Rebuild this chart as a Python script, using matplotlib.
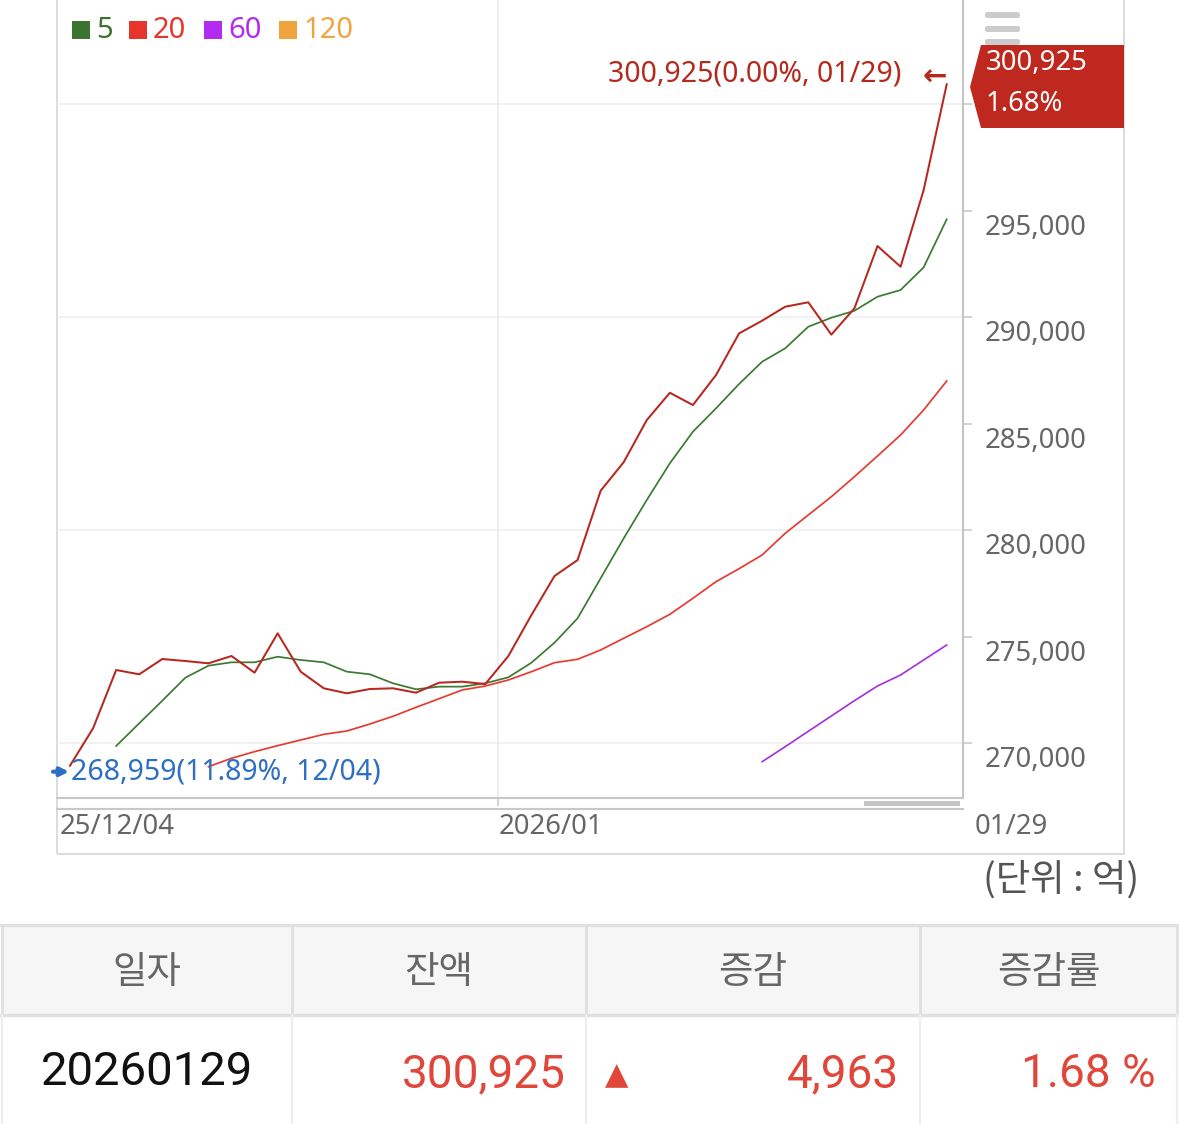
import numpy as np
import matplotlib
matplotlib.use("Agg")
import matplotlib.pyplot as plt
from matplotlib.patches import Rectangle, Polygon, FancyBboxPatch
from matplotlib.lines import Line2D
import matplotlib.transforms as mtransforms

nan = np.nan

# ---------------- data ----------------
dates = ["2025-12-04", "2025-12-05", "2025-12-08", "2025-12-09", "2025-12-10", "2025-12-11",
         "2025-12-12", "2025-12-15", "2025-12-16", "2025-12-17", "2025-12-18", "2025-12-19",
         "2025-12-22", "2025-12-23", "2025-12-24", "2025-12-26", "2025-12-29", "2025-12-30",
         "2025-12-31", "2026-01-02", "2026-01-05", "2026-01-06", "2026-01-07", "2026-01-08",
         "2026-01-09", "2026-01-12", "2026-01-13", "2026-01-14", "2026-01-15", "2026-01-16",
         "2026-01-19", "2026-01-20", "2026-01-21", "2026-01-22", "2026-01-23", "2026-01-26",
         "2026-01-27", "2026-01-28", "2026-01-29"]

balance = [268959, 270713, 273447, 273245, 273963, 273869, 273761, 274104, 273322, 275168,
           273368, 272589, 272354, 272556, 272589, 272383, 272852, 272899, 272790, 274104,
           276027, 277856, 278606, 281856, 283198, 285173, 286453, 285876, 287283, 289238,
           289834, 290490, 290697, 289180, 290415, 293338, 292368, 295962, 300925]

ma5 = [nan, nan, 269883, 270947, 272008, 273087, 273650, 273808, 273808, 274072,
       273917, 273808, 273368, 273246, 272824, 272542, 272667, 272667, 272824, 273105,
       273790, 274729, 275873, 277750, 279626, 281423, 283144, 284627, 285722, 286864,
       287910, 288538, 289551, 289973, 290300, 290959, 291273, 292338, 294590]

ma20 = [nan, nan, nan, nan, nan, nan, 268912, 269306, 269617, 269898,
        270164, 270430, 270586, 270915, 271276, 271698, 272102, 272510, 272697, 272979,
        273368, 273790, 273950, 274386, 274935, 275479, 276061, 276811, 277590, 278200,
        278843, 279860, 280719, 281577, 282516, 283487, 284472, 285645, 287005]

ma60 = [nan] * 30 + [269146, 269850, 270572, 271290, 272008, 272697, 273213, 273917, 274621]

y_ticks = list(range(270000, 300001, 5000))
y_grid = list(range(270000, 300001, 10000))
legend_labels = ["5", "20", "60", "120"]
legend_colors = ["#3b7431", "#e8352c", "#b22cf0", "#f0a440"]
x_tick_labels = ["25/12/04", "2026/01", "01/29"]
unit_label = "(단위 : 억)"
table_headers = ["일자", "잔액", "증감", "증감률"]

# derived values
last = balance[-1]
prev = balance[-2]
change = last - prev
rate = change / prev * 100
vmin = min(balance)
imin = balance.index(vmin)
vmax = max(balance)
imax = balance.index(vmax)
last_label_date = dates[-1][5:].replace("-", "/")
min_label_date = dates[imin][5:].replace("-", "/")

# ---------------- figure ----------------
W, H = 1179, 1124
fig = plt.figure(figsize=(W / 100, H / 100), dpi=100)
fig.patch.set_facecolor("white")


def FX(px):
    return px / W


def FY(py):
    return 1 - py / H


LAT = ["Noto Sans", "DejaVu Sans"]
KOR = ["Noto Sans CJK KR", "DejaVu Sans"]
ROB = ["Roboto", "DejaVu Sans"]

# outer chart box
fig.add_artist(Rectangle((FX(57), FY(854)), FX(1124) - FX(57), FY(-5) - FY(854),
                         transform=fig.transFigure, fill=False, ec="#d2d2d2", lw=1.1, zorder=0))

# main axes
ax = fig.add_axes([FX(57), FY(798), FX(963) - FX(57), 798 / H])
ax.set_facecolor("none")
x = np.arange(len(balance))
ax.set_xlim(-0.5635, len(balance) - 1 + 0.706)
ax.set_ylim(267443, 304878)

for s in ["left", "top"]:
    ax.spines[s].set_visible(False)
ax.spines["right"].set_color("#c4c4c4")
ax.spines["right"].set_linewidth(1.5)
ax.spines["bottom"].set_color("#c8c8c8")
ax.spines["bottom"].set_linewidth(1.5)

jan_pos = dates.index("2026-01-02") - 0.44  # month boundary

for v in y_grid:
    ax.axhline(v, color="#efefef", lw=1.1, zorder=0)
ax.axvline(jan_pos, color="#e8e8e8", lw=1.1, zorder=0)

ax.yaxis.tick_right()
ax.set_yticks(y_ticks)
ax.set_yticklabels([])
ax.tick_params(axis="y", length=6.5, width=1.1, color="#c8c8c8", right=True, left=False)
ax.set_xticks([jan_pos])
ax.set_xticklabels([])
ax.tick_params(axis="x", length=5.8, width=1.1, color="#c8c8c8")

for v in y_ticks:
    if v >= 300000:
        continue  # hidden behind the price tag
    ax.annotate(f"{v:,}", xy=(1, v), xycoords=("axes fraction", "data"),
                xytext=(22 * 0.72, -17 * 0.72), textcoords="offset points",
                ha="left", va="center", fontsize=19.8, color="#666666",
                family=LAT, annotation_clip=False, zorder=3)

# series
ax.plot(x, ma60, color="#a52de6", lw=1.2, zorder=4)
ax.plot(x, ma20, color="#e63b31", lw=1.25, zorder=4)
ax.plot(x, ma5, color="#3b7a32", lw=1.25, zorder=5)
ax.plot(x, balance, color="#b8271f", lw=1.45, zorder=6)

# min label
ax.annotate(f"{vmin:,}({(last / vmin - 1) * 100:.2f}%, {min_label_date})",
            xy=(imin, vmin), xytext=(1 * 0.72, -6 * 0.72), textcoords="offset points",
            ha="left", va="center", fontsize=20.5, color="#2f6fc2", family=LAT, zorder=7)
arrow_anchor = mtransforms.offset_copy(ax.transData, fig=fig, x=-1, y=-6, units="dots")
ax.annotate("", xy=(imin, vmin), xycoords=arrow_anchor,
            xytext=(-16 * 0.72, 0), textcoords="offset points",
            arrowprops=dict(arrowstyle="-|>", color="#2f6fc2", lw=3, mutation_scale=12,
                            shrinkA=0, shrinkB=0),
            zorder=7, annotation_clip=False)

# max label
ax.annotate(f"{vmax:,}({(last / vmax - 1) * 100:.2f}%, {last_label_date})",
            xy=(imax, vmax), xytext=(-45 * 0.72, 10 * 0.72), textcoords="offset points",
            ha="right", va="center", fontsize=20.5, color="#b5281e", family=LAT, zorder=7)
ax.annotate("←", xy=(imax, vmax), xytext=(-12 * 0.72, 7 * 0.72), textcoords="offset points",
            ha="center", va="center", fontsize=21, color="#b5281e", fontweight="bold",
            family=["DejaVu Sans"], zorder=7)

# navigator line, tick and scrollbar
fig.add_artist(Line2D([FX(57), FX(963)], [FY(809), FY(809)], transform=fig.transFigure,
                      color="#c8c8c8", lw=1.5))
fig.add_artist(Rectangle((FX(864), FY(806)), FX(960) - FX(864), FY(801) - FY(806),
                         transform=fig.transFigure, color="#c4c4c4", lw=0))

# x labels
fig.text(FX(60), FY(827), x_tick_labels[0], ha="left", va="center", fontsize=19.8,
         color="#666666", family=LAT)
bt = mtransforms.blended_transform_factory(ax.transData, fig.transFigure)
fig.text(jan_pos, FY(827), x_tick_labels[1], transform=bt, ha="left", va="center",
         fontsize=19.8, color="#666666", family=LAT)
fig.text(FX(975), FY(827), x_tick_labels[2], ha="left", va="center", fontsize=19.8,
         color="#666666", family=LAT)

# legend
lx = [72, 129, 204, 279]
for px, lab, col in zip(lx, legend_labels, legend_colors):
    fig.add_artist(Rectangle((FX(px), FY(39)), 18 / W, 18 / H, transform=fig.transFigure,
                             color=col, lw=0))
    fig.text(FX(px + 24), FY(30), lab, ha="left", va="center", fontsize=21,
             color=col, family=LAT)

# hamburger menu icon
for y0 in [12, 26, 39]:
    fig.add_artist(FancyBboxPatch((FX(985), FY(y0 + 6)), 35 / W, 6 / H,
                                  boxstyle="round,pad=0,rounding_size=0.002",
                                  transform=fig.transFigure, color="#cccccc", lw=0))

# price tag
tag = Polygon([(FX(981), FY(45)), (FX(1124), FY(45)), (FX(1124), FY(128)),
               (FX(981), FY(128)), (FX(970), FY(87))], closed=True,
              transform=fig.transFigure, color="#bf281e", lw=0, zorder=10)
fig.add_artist(tag)
fig.text(FX(986), FY(63), f"{last:,}", ha="left", va="center", fontsize=19.8,
         color="white", family=LAT, zorder=11)
fig.text(FX(986), FY(104), f"{rate:.2f}%", ha="left", va="center", fontsize=19.8,
         color="white", family=LAT, zorder=11)

# unit label
fig.text(FX(1139), FY(880), unit_label, ha="right", va="center", fontsize=27,
         color="#555555", family=KOR)

# ---------------- table ----------------
hdr_top, hdr_bot = 925, 1015
fig.add_artist(Rectangle((FX(2), FY(hdr_bot)), FX(1177) - FX(2), FY(hdr_top) - FY(hdr_bot),
                         transform=fig.transFigure, color="#f6f6f6", lw=0))
fig.add_artist(Line2D([FX(0), FX(1179)], [FY(hdr_top), FY(hdr_top)], transform=fig.transFigure,
                      color="#e0e0e0", lw=2.4))
fig.add_artist(Line2D([FX(0), FX(1179)], [FY(hdr_bot), FY(hdr_bot)], transform=fig.transFigure,
                      color="#e0e0e0", lw=2.4))
cols = [2, 292, 586, 920, 1177]
for cx in cols:
    fig.add_artist(Line2D([FX(cx), FX(cx)], [FY(hdr_top), FY(hdr_bot)], transform=fig.transFigure,
                          color="#e0e0e0", lw=2.0))
    fig.add_artist(Line2D([FX(cx), FX(cx)], [FY(hdr_bot), FY(1130)], transform=fig.transFigure,
                          color="#eeeeee", lw=1.6))

for i, h in enumerate(table_headers):
    cx = (cols[i] + cols[i + 1]) / 2
    fig.text(FX(cx), FY(972), h, ha="center", va="center", fontsize=27, color="#666666",
             family=KOR)

red = "#e0463a"
fig.text(FX(147), FY(1072), dates[-1].replace("-", ""), ha="center", va="center",
         fontsize=34, color="#111111", family=ROB)
fig.text(FX(566), FY(1074), f"{last:,}", ha="right", va="center", fontsize=33,
         color=red, family=ROB)
fig.text(FX(617), FY(1076), "▲", ha="center", va="center", fontsize=22, color=red,
         family=["DejaVu Sans"])
fig.text(FX(899), FY(1074), f"{change:,}", ha="right", va="center", fontsize=33,
         color=red, family=ROB)
fig.text(FX(1156), FY(1074), f"{rate:.2f} %", ha="right", va="center", fontsize=33,
         color=red, family=ROB)

fig.savefig("out.png", dpi=100)
